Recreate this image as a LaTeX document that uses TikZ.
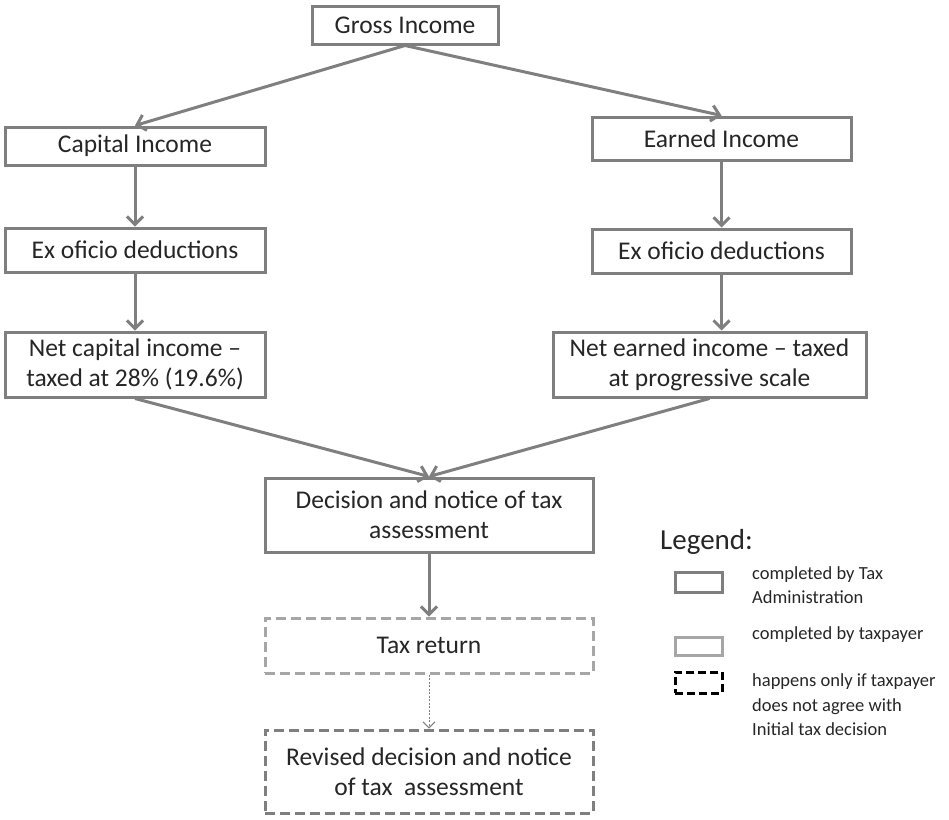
\documentclass[tikz,border=0pt]{standalone}
\usepackage{fontspec}
\setmainfont{Carlito}
\usetikzlibrary{arrows.meta}
\definecolor{edge}{HTML}{7F7F7F}
\definecolor{paleedge}{HTML}{A6A6A6}
\definecolor{ink}{HTML}{262626}
\tikzset{
  box/.style={draw=edge, line width=3pt, fill=white, text=ink, align=center,
    inner sep=0pt, font=\fontsize{25.5}{30}\selectfont},
  optbox/.style={box, dash pattern=on 10pt off 5pt},
  flow/.style={draw=edge, line width=3pt, -{Straight Barb[length=8pt,width=16pt,line width=3pt]}},
  thinflow/.style={draw=edge, line width=1pt, dash pattern=on 2pt off 1.5pt, -{Straight Barb[length=6pt,width=12pt,line width=1pt]}},
  legtext/.style={anchor=west, align=left, inner sep=0pt, text=ink,
    font=\fontsize{18.5}{24.5}\selectfont},
}
\begin{document}
\begin{tikzpicture}[x=1pt,y=-1pt]
\useasboundingbox (0,0) rectangle (949,819);

% boxes
\node[box, minimum width=186pt, minimum height=38pt] (gross) at (405,25) {Gross Income};
\node[box, minimum width=260pt, minimum height=38pt] (capital) at (135,146) {Capital Income};
\node[box, minimum width=259pt, minimum height=43pt] (earned) at (721.5,138.5) {Earned Income};
\node[box, minimum width=260pt, minimum height=44pt] (exL) at (135,250) {Ex oficio deductions};
\node[box, minimum width=259pt, minimum height=44pt] (exR) at (721.5,251) {Ex oficio deductions};
\node[box, minimum width=260pt, minimum height=65pt] (netL) at (135,364.5) {Net capital income --\\taxed at 28\% (19.6\%)};
\node[box, minimum width=313pt, minimum height=65pt] (netR) at (709.5,364.5) {Net earned income -- taxed\\at progressive scale};
\node[box, minimum width=328pt, minimum height=74pt] (decision) at (429,515) {Decision and notice of tax\\assessment};
\node[optbox, draw=paleedge, minimum width=328pt, minimum height=55pt] (taxret) at (429,645.5) {Tax return};
\node[optbox, minimum width=328pt, minimum height=83pt] (revised) at (429,771.5) {Revised decision and notice\\of tax \ assessment};

% connectors
\draw[flow] (gross.south) -- (capital.north);
\draw[flow] (gross.south) -- (earned.north);
\draw[flow] (capital) -- (exL);
\draw[flow] (exL) -- (netL);
\draw[flow] (earned.south) -- (exR.north);
\draw[flow] (exR.south) -- (exR.south |- netR.north);
\draw[flow] (netL.south) -- (decision.north);
\draw[flow] (netR.south) -- (decision.north);
\draw[flow] (decision) -- (taxret);
\draw[thinflow] (taxret) -- (revised);

% legend
\node[anchor=west, inner sep=0pt, text=ink, font=\fontsize{29}{34}\selectfont] (legtitle) at (660,542) {Legend:};
\node[draw=edge, line width=3pt, minimum width=47pt, minimum height=20pt, inner sep=0pt] (k1) at (698.5,582) {};
\node[draw=paleedge, line width=3pt, minimum width=47pt, minimum height=18pt, inner sep=0pt] (k2) at (698.5,646) {};
\node[draw=black, line width=3pt, dash pattern=on 8pt off 4pt, minimum width=47pt, minimum height=21pt, inner sep=0pt] (k3) at (698.5,682.5) {};
\node[legtext] (t1) at (752,585) {completed by Tax\\Administration};
\node[legtext] (t2) at (752,635) {completed by taxpayer};
\node[legtext] (t3) at (752,705) {happens only if taxpayer\\does not agree with\\Initial tax decision};
\end{tikzpicture}
\end{document}
